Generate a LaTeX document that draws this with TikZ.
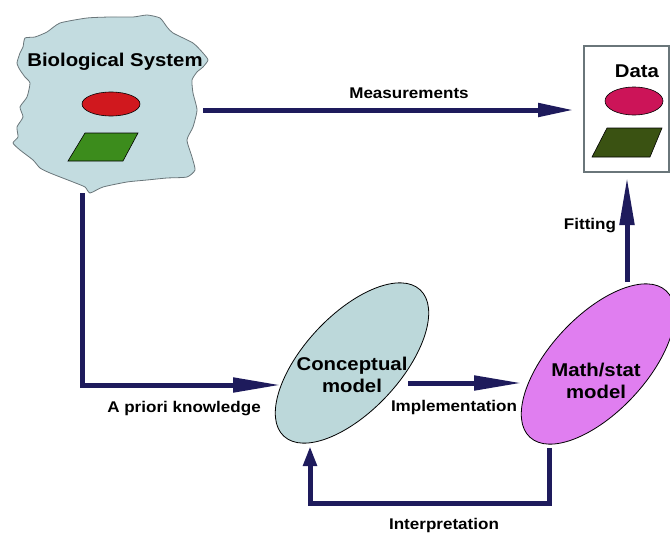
\documentclass[tikz,border=0pt]{standalone}
\usepackage{fontspec}
\setmainfont{Liberation Sans}
\newfontfamily\labfont{Liberation Sans Bold}[FakeStretch=1.1]
\usetikzlibrary{arrows.meta,shapes.geometric}
\definecolor{navy}{HTML}{1E1B5C}
\definecolor{bluegray}{HTML}{C3DCE0}
\definecolor{concfill}{HTML}{BCD8DA}
\definecolor{mathfill}{HTML}{E07EF0}
\definecolor{redfill}{HTML}{D0181E}
\definecolor{greenfill}{HTML}{3C8C1C}
\definecolor{datared}{HTML}{CC1458}
\definecolor{datagreen}{HTML}{3A5212}
\definecolor{edgegray}{HTML}{6A767A}
\begin{document}
\begin{tikzpicture}[x=1pt,y=-1pt,
  biglabel/.style={font=\labfont\fontsize{18.5}{22}\selectfont, align=center, inner sep=0pt},
  smalllabel/.style={font=\labfont\fontsize{15.5}{18}\selectfont, inner sep=0pt},
  conn/.style={draw=navy, line width=5pt},
  bigtip/.style={-{Triangle[length=48pt,width=14pt]}},
  midtip/.style={-{Triangle[length=36pt,width=13pt]}},
  shorttip/.style={-{Triangle[length=20pt,width=13pt]}},
  modelell/.style={ellipse, draw=black, line width=0.8pt, minimum width=200pt, minimum height=96pt, rotate=47, inner sep=0pt}
]
\useasboundingbox (0,0) rectangle (670,533);

% Biological system blob
\draw[edgegray, line width=0.8pt, fill=bluegray] plot[smooth cycle, tension=0.35] coordinates {
 (25,38) (35,37) (47,32) (60,23) (87,18) (110,17) (133,17) (147,15) (160,18) (167,27)
 (173,33) (193,43) (203,53) (208,60) (203,67) (197,72) (192,80) (193,93) (197,110)
 (193,127) (187,140) (192,157) (195,170) (187,177) (167,178) (147,180) (127,182)
 (103,187) (90,193) (85,187) (73,182) (50,173) (40,168) (33,160) (20,150) (13,143)
 (18,137) (17,127) (23,117) (20,107) (27,97) (30,83) (25,77) (20,70) (17,63) (20,53) (23,47)};
\node[biglabel] (biotext) at (115,62) {Biological System};
\node[ellipse, draw=black, line width=0.6pt, fill=redfill, minimum width=58pt, minimum height=24pt, inner sep=0pt] (bioell) at (111,104) {};
\draw[black, line width=0.6pt, fill=greenfill] (85,133) -- (138,133) -- (123,161) -- (68,161) -- cycle;

% Data box
\node[draw=edgegray, line width=1.2pt, minimum width=85pt, minimum height=126pt, inner sep=0pt] (databox) at (626.5,109) {};
\node[biglabel] (datatext) at (637,71) {Data};
\node[ellipse, draw=black, line width=0.6pt, fill=datared, minimum width=58pt, minimum height=28pt, inner sep=0pt] (dataell) at (634,101) {};
\draw[black, line width=0.6pt, fill=datagreen] (607,128) -- (662,128) -- (650,157) -- (592,157) -- cycle;

% Models
\node[modelell, fill=concfill] (concept) at (352,363) {};
\node[biglabel] (concepttext) at (352,375) {Conceptual\\model};
\node[modelell, fill=mathfill] (math) at (598,364) {};
\node[biglabel] (mathtext) at (596,381) {Math/stat\\model};

% Connector endpoints
\coordinate (measA) at (203,110);
\coordinate (measB) at (574,110);
\coordinate (aprA) at (82,193);
\coordinate (aprC) at (82,385);
\coordinate (aprB) at (281,385);
\coordinate (impA) at (408,383);
\coordinate (impB) at (522,383);
\coordinate (fitA) at (627,282);
\coordinate (fitB) at (627,177);
\coordinate (intA) at (549,448);
\coordinate (intC1) at (549,503);
\coordinate (intC2) at (310,503);
\coordinate (intB) at (310,446);

% Connectors
\draw[conn, midtip] (measA) -- (measB);
\draw[conn, bigtip] (aprA) -- (aprC) -- (aprB);
\draw[conn, bigtip] (impA) -- (impB);
\draw[conn, bigtip] (fitA) -- (fitB);
\draw[conn, shorttip] (intA) -- (intC1) -- (intC2) -- (intB);

% Labels
\node[smalllabel] (measlabel) at (409,93) {Measurements};
\node[smalllabel] (aprlabel) at (184,409) {A priori knowledge};
\node[smalllabel] (implabel) at (454,407) {Implementation};
\node[smalllabel] (fitlabel) at (590,226) {Fitting};
\node[smalllabel] (intlabel) at (444,525) {Interpretation};
\end{tikzpicture}
\end{document}
